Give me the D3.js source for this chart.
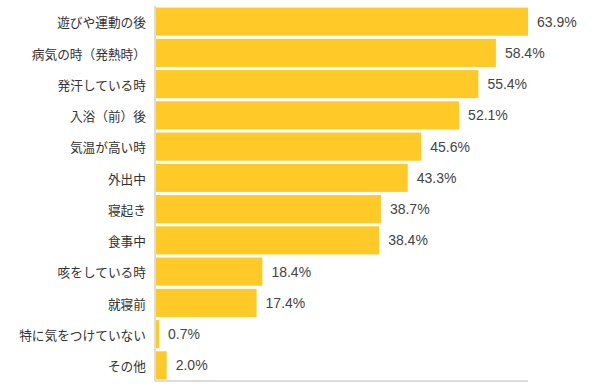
<!DOCTYPE html>
<html>
<head>
<meta charset="utf-8">
<script src="https://cdn.jsdelivr.net/npm/d3@7"></script>
<style>
  body { margin: 0; background: #fff; }
  .cat text { font-family: "Noto Sans CJK JP", sans-serif; font-size: 12.7px; fill: #333; }
  .val { font-family: "Liberation Sans", Arial, sans-serif; font-size: 14px; fill: #444; }
</style>
</head>
<body>
<div id="chart"></div>
<script>
// categories and percentages
var categories = ["遊びや運動の後", "病気の時（発熱時）", "発汗している時", "入浴（前）後",
  "気温が高い時", "外出中", "寝起き", "食事中", "咳をしている時", "就寝前",
  "特に気をつけていない", "その他"];
var values = [63.9, 58.4, 55.4, 52.1, 45.6, 43.3, 38.7, 38.4, 18.4, 17.4, 0.7, 2.0];

var svgWidth = 602;
var svgHeight = 388;

var margin = { top: 6, right: 74, bottom: 7, left: 155 };
var chartWidth = svgWidth - margin.left - margin.right;
var chartHeight = svgHeight - margin.top - margin.bottom;

var svg = d3.select("#chart")
  .append("svg")
  .attr("width", svgWidth)
  .attr("height", svgHeight);

var chartGroup = svg.append("g")
  .attr("transform", `translate(${margin.left}, ${margin.top})`);

var xScale = d3.scaleLinear()
  .domain([0, d3.max(values)])
  .range([0, chartWidth]);

var yScale = d3.scaleBand()
  .domain(categories)
  .range([0, chartHeight])
  .paddingInner(0.1)
  .paddingOuter(0.05);

// bars
chartGroup.selectAll("rect.bar")
  .data(values)
  .enter()
  .append("rect")
  .attr("class", "bar")
  .attr("x", 1)
  .attr("y", (d, i) => yScale(categories[i]))
  .attr("width", d => Math.max(0, xScale(d) - 1))
  .attr("height", yScale.bandwidth())
  .attr("fill", "#ffc928");

// value labels
chartGroup.selectAll("text.val")
  .data(values)
  .enter()
  .append("text")
  .attr("class", "val")
  .attr("x", d => xScale(d) + 9)
  .attr("y", (d, i) => yScale(categories[i]) + yScale.bandwidth() / 2)
  .attr("dy", "0.35em")
  .text(d => d.toFixed(1) + "%");

// category axis
var yAxis = d3.axisLeft(yScale).tickSize(0).tickPadding(9);
var yG = chartGroup.append("g")
  .attr("class", "cat")
  .call(yAxis);
yG.select(".domain").remove();
yG.selectAll("text").attr("dy", "0.45em");

// left and bottom lines
chartGroup.append("line")
  .attr("x1", 0).attr("x2", 0)
  .attr("y1", 0).attr("y2", chartHeight)
  .attr("stroke", "#bbb");
chartGroup.append("line")
  .attr("x1", 0).attr("x2", xScale(d3.max(values)))
  .attr("y1", chartHeight).attr("y2", chartHeight)
  .attr("stroke", "#bbb");
</script>
</body>
</html>
